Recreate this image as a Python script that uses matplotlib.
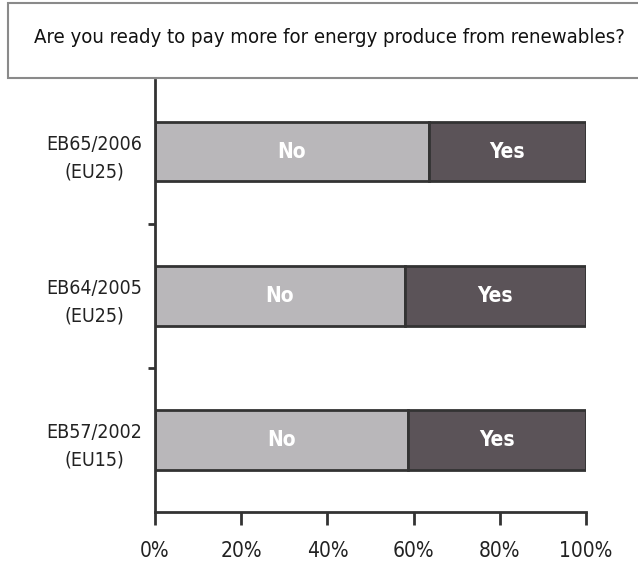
import matplotlib
matplotlib.use("Agg")
import matplotlib.pyplot as plt
from matplotlib.patches import Rectangle

# Survey waves, bottom to top
waves = ["EB57/2002\n(EU15)", "EB64/2005\n(EU25)", "EB65/2006\n(EU25)"]
no_share = [58.6, 58.0, 63.5]
yes_share = [41.4, 42.0, 36.5]
x_ticks = [0, 20, 40, 60, 80, 100]
x_tick_labels = ["0%", "20%", "40%", "60%", "80%", "100%"]
title = "Are you ready to pay more for energy produce from renewables?"

plt.rcParams["font.family"] = ["DejaVu Sans"]
plt.rcParams["font.stretch"] = "condensed"

fig = plt.figure(figsize=(6.38, 5.71), dpi=100)
ax = fig.add_axes([0.243, 0.1033, 0.6755, 0.7567])

pos = [0.5, 1.5, 2.5]
no_col = "#b9b7ba"
yes_col = "#5b5358"
edge = "#333333"
ax.barh(pos, no_share, height=0.41, color=no_col, edgecolor=edge, linewidth=2)
ax.barh(pos, yes_share, left=no_share, height=0.41, color=yes_col,
        edgecolor=edge, linewidth=2)

for y, n, ys in zip(pos, no_share, yes_share):
    ax.text(n / 2, y, "No", ha="center", va="center", color="white",
            fontsize=15, fontweight="bold")
    ax.text(n + ys / 2, y, "Yes", ha="center", va="center", color="white",
            fontsize=15, fontweight="bold")

ax.set_xlim(0, 100)
ax.set_ylim(0, 3)
ax.set_xticks(x_ticks)
ax.set_xticklabels(x_tick_labels, fontsize=15, color="#222222")
ax.set_yticks(pos)
ax.set_yticklabels(waves, fontsize=14, color="#222222", ha="center",
                   linespacing=1.55)
ax.tick_params(axis="y", which="major", length=0, pad=44)
ax.set_yticks([1, 2], minor=True)
ax.tick_params(axis="y", which="minor", length=5, width=2, color="#333333")
ax.tick_params(axis="x", length=9, width=2, color="#333333", pad=12)

for s in ["top", "right"]:
    ax.spines[s].set_visible(False)
for s in ["left", "bottom"]:
    ax.spines[s].set_color("#333333")
    ax.spines[s].set_linewidth(2)

# Question header in a box
fig.patches.append(Rectangle((0.0125, 0.863), 1.0, 0.131, transform=fig.transFigure,
                             facecolor="white", edgecolor="#8a8a8a", linewidth=1.5))
fig.text(0.517, 0.935, title, ha="center", va="center", fontsize=14.6,
         color="#111111")

fig.savefig("out.png", dpi=100, facecolor="white")
